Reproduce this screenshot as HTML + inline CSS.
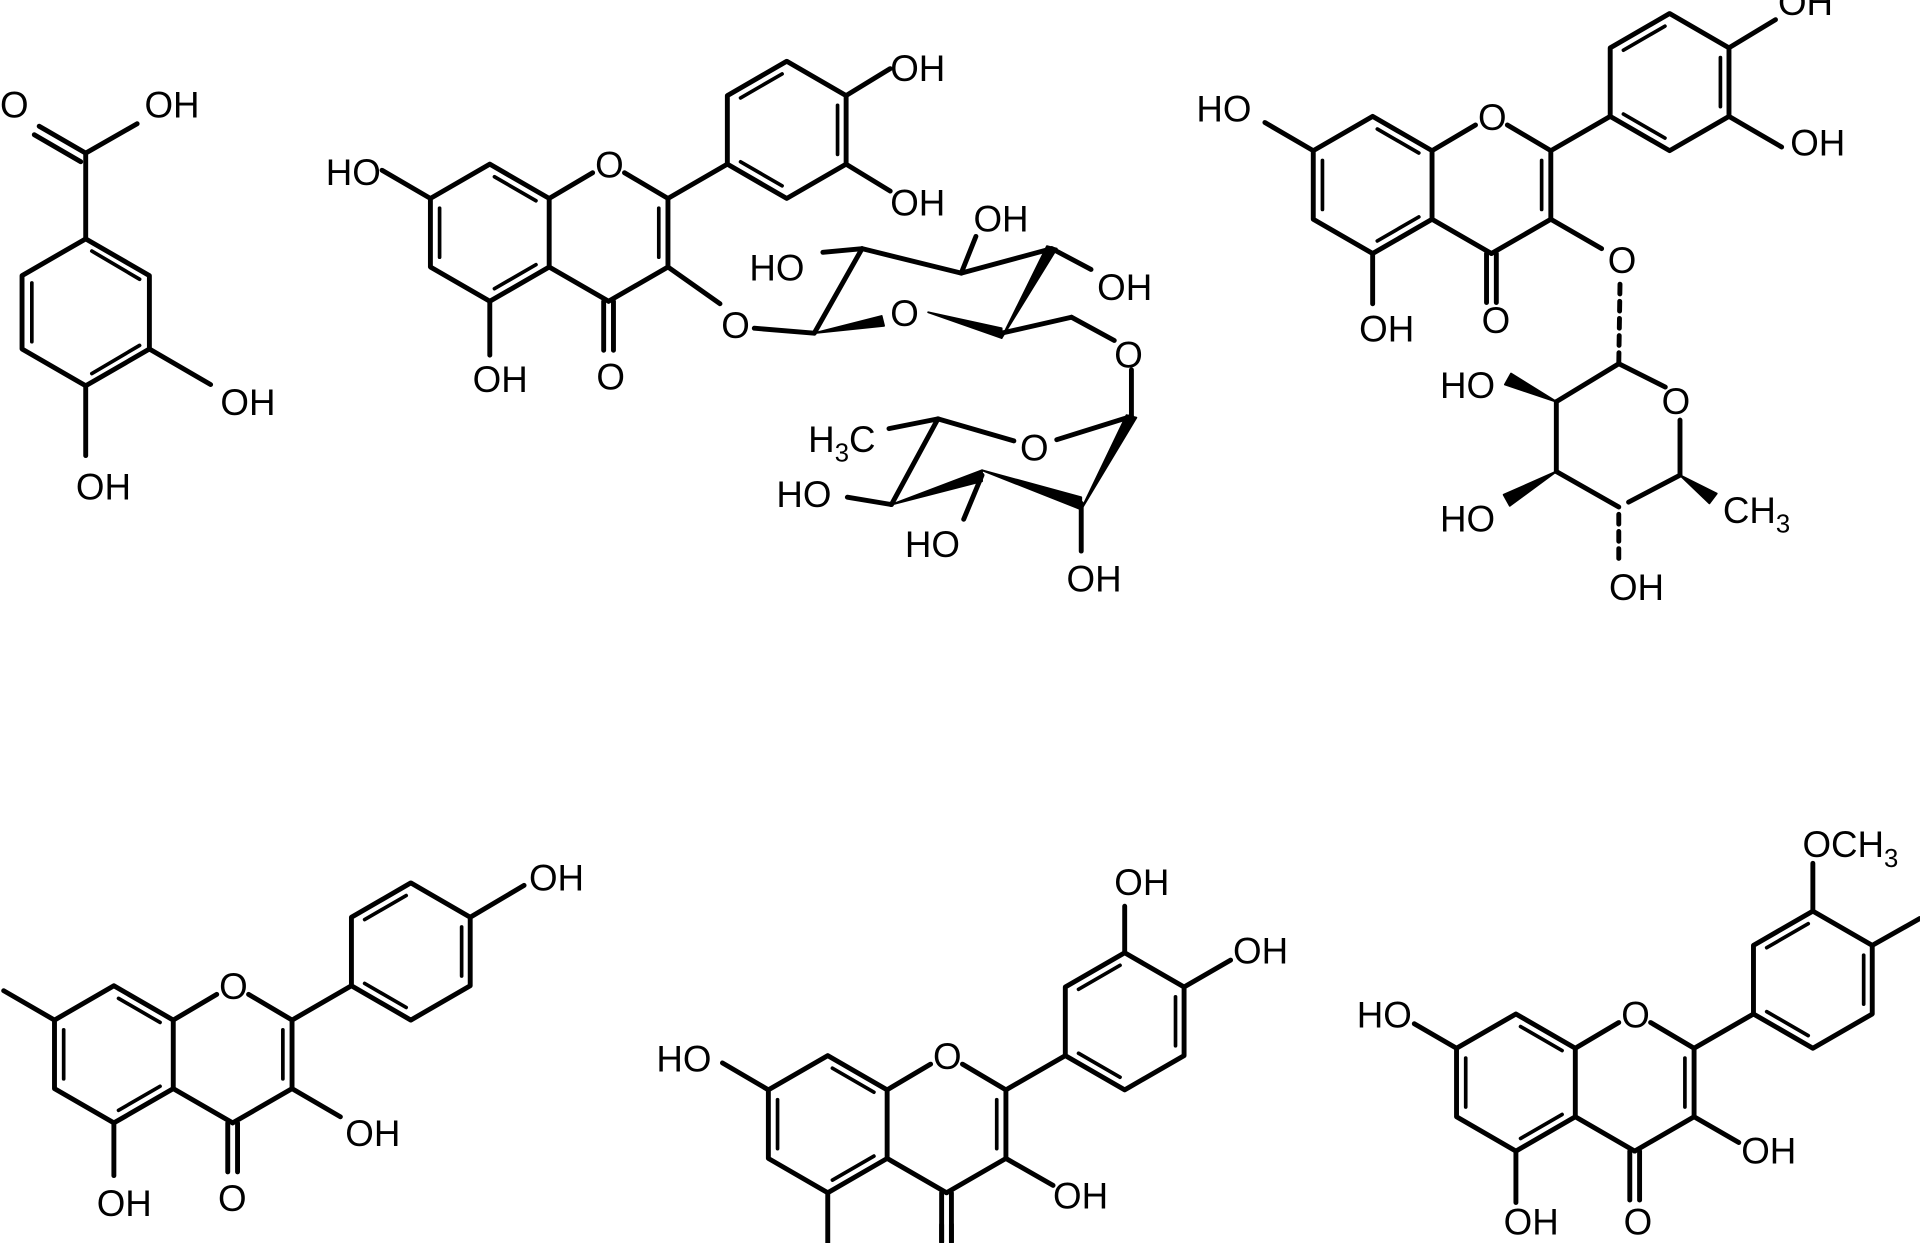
<!DOCTYPE html>
<html><head><meta charset="utf-8"><style>
html,body{margin:0;padding:0;background:#fff}
svg{display:block}
text{font-family:"Liberation Sans",Arial,sans-serif;font-size:30px;fill:#000}
</style></head><body>
<svg width="1920" height="1243" viewBox="0 0 1568 1015" xmlns="http://www.w3.org/2000/svg">
<defs>
<g id="core" fill="none" stroke="#000" stroke-width="4" stroke-linejoin="round" stroke-linecap="round">
<polygon points="0,-56 48.5,-28 48.5,28 0,56 -48.5,28 -48.5,-28"/>
<line x1="48.5" y1="-28" x2="84" y2="-49"/>
<line x1="110" y1="-49" x2="145.5" y2="-28"/>
<line x1="145.5" y1="-28" x2="145.5" y2="28"/>
<line x1="145.5" y1="28" x2="97" y2="56"/>
<line x1="97" y1="56" x2="48.5" y2="28"/>
<line x1="-41" y1="-20" x2="-41" y2="20" stroke-width="3"/>
<line x1="3.8" y1="-45.7" x2="37.7" y2="-26.1" stroke-width="3"/>
<line x1="37.7" y1="26.1" x2="3.8" y2="45.7" stroke-width="3"/>
<line x1="138" y1="-20" x2="138" y2="20" stroke-width="3"/>
<line x1="145.5" y1="-28" x2="194" y2="-56"/>
<polygon points="242.5,-140 291,-112 291,-56 242.5,-28 194,-56 194,-112"/>
<line x1="204.8" y1="-110.1" x2="238.7" y2="-129.7" stroke-width="3"/>
<line x1="284" y1="-104" x2="284" y2="-64" stroke-width="3"/>
<line x1="204.8" y1="-57.9" x2="238.7" y2="-38.3" stroke-width="3"/>
<line x1="93" y1="56" x2="93" y2="96"/>
<line x1="101" y1="56" x2="101" y2="96"/>
</g>
</defs>

<g fill="none" stroke="#000" stroke-width="4" stroke-linecap="round" stroke-linejoin="round">
<polygon points="70,195 122,225 122,285 70,315 18,285 18,225"/>
<line x1="26" y1="231" x2="26" y2="279" stroke-width="3"/>
<line x1="75" y1="205" x2="114" y2="228" stroke-width="3"/>
<line x1="114" y1="282" x2="75" y2="305" stroke-width="3"/>
<line x1="70" y1="195" x2="70" y2="125"/>
<line x1="70" y1="125" x2="32" y2="103"/>
<line x1="66" y1="132" x2="28" y2="110"/>
<line x1="70" y1="125" x2="112" y2="101"/>
<line x1="122" y1="285" x2="172" y2="314"/>
<line x1="70" y1="315" x2="70" y2="372"/>
</g>
<text x="0" y="96">O</text>
<text x="118" y="96">OH</text>
<text x="180" y="339">OH</text>
<text x="62" y="408">OH</text>

<!-- rutin -->
<use href="#core" transform="translate(400,190)"/>
<g fill="none" stroke="#000" stroke-width="4" stroke-linecap="round">
<line x1="351.5" y1="162" x2="312" y2="139"/>
<line x1="400" y1="246" x2="400" y2="290"/>
<line x1="691" y1="78" x2="727" y2="56"/>
<line x1="691" y1="134" x2="727" y2="156"/>
<line x1="545.5" y1="218" x2="588" y2="248"/>
<line x1="616" y1="268" x2="665" y2="272"/>
<line x1="665" y1="272" x2="704" y2="203"/>
<line x1="704" y1="203" x2="785" y2="223"/>
<line x1="785" y1="223" x2="859" y2="203"/>
<line x1="704" y1="203" x2="672" y2="206"/>
<line x1="785" y1="223" x2="797" y2="193"/>
<line x1="859" y1="203" x2="891" y2="220"/>
<line x1="818" y1="272" x2="875" y2="259"/>
<line x1="875" y1="259" x2="910" y2="278"/>
<line x1="924" y1="302" x2="924" y2="340"/>
<line x1="924" y1="340" x2="863" y2="359"/>
<line x1="828" y1="360" x2="766" y2="342"/>
<line x1="766" y1="342" x2="726" y2="350"/>
<line x1="766" y1="342" x2="728" y2="412"/>
<line x1="728" y1="412" x2="692" y2="406"/>
<line x1="802" y1="388" x2="787" y2="424"/>
<line x1="883" y1="411" x2="883" y2="450"/>
</g>
<g fill="#000" stroke="#000" stroke-width="1.5" stroke-linejoin="round">
<polygon points="665,272 720,258 722,266"/>
<polygon points="758,255 818,268 818,276"/>
<polygon points="818,276 855,201 863,203"/>
<polygon points="728,412 802,384 802,393"/>
<polygon points="802,384 883,406 883,416"/>
<polygon points="883,416 920,339 928,341"/>
</g>
<text x="486" y="145">O</text>
<text x="266" y="151">HO</text>
<text x="386" y="320">OH</text>
<text x="487" y="318">O</text>
<text x="727" y="66">OH</text>
<text x="727" y="176">OH</text>
<text x="589" y="276">O</text>
<text x="727" y="266">O</text>
<text x="612" y="229">HO</text>
<text x="795" y="189">OH</text>
<text x="896" y="245">OH</text>
<text x="910" y="300">O</text>
<text x="833" y="376">O</text>
<text x="660" y="369">H<tspan font-size="21" dy="8">3</tspan><tspan dy="-8">C</tspan></text>
<text x="634" y="414">HO</text>
<text x="739" y="455">HO</text>
<text x="871" y="483">OH</text>

<!-- quercitrin -->
<use href="#core" transform="translate(1121,151)"/>
<g fill="none" stroke="#000" stroke-width="4" stroke-linecap="round">
<line x1="1072.5" y1="123" x2="1033" y2="100"/>
<line x1="1121" y1="207" x2="1121" y2="248"/>
<line x1="1412" y1="39" x2="1450" y2="16"/>
<line x1="1412" y1="95" x2="1455" y2="120"/>
<line x1="1266.5" y1="179" x2="1308" y2="203"/>
<line x1="1323" y1="232" x2="1322" y2="297" stroke-dasharray="8,6"/>
<line x1="1322" y1="297" x2="1360" y2="316"/>
<line x1="1372" y1="343" x2="1372" y2="388"/>
<line x1="1372" y1="388" x2="1330" y2="410"/>
<line x1="1322" y1="420" x2="1322" y2="456" stroke-dasharray="8,6"/>
<line x1="1322" y1="414" x2="1271" y2="385"/>
<line x1="1271" y1="385" x2="1271" y2="328"/>
<line x1="1271" y1="328" x2="1322" y2="297"/>
</g>
<g fill="#000" stroke="#000" stroke-width="1.5" stroke-linejoin="round">
<polygon points="1372,388 1396,411 1402,403"/>
<polygon points="1271,385 1228,404 1233,413"/>
<polygon points="1271,328 1234,305 1229,314"/>
</g>
<text x="1207" y="106">O</text>
<text x="977" y="99">HO</text>
<text x="1110" y="279">OH</text>
<text x="1210" y="272">O</text>
<text x="1452" y="12">OH</text>
<text x="1462" y="127">OH</text>
<text x="1313" y="223">O</text>
<text x="1357" y="338">O</text>
<text x="1407" y="427">CH<tspan font-size="21" dy="8">3</tspan></text>
<text x="1176" y="325">HO</text>
<text x="1176" y="434">HO</text>
<text x="1314" y="490">OH</text>

<!-- kaempferol -->
<use href="#core" transform="translate(93,861)"/>
<g fill="none" stroke="#000" stroke-width="4" stroke-linecap="round">
<line x1="44.5" y1="833" x2="3" y2="809"/>
<line x1="93" y1="917" x2="93" y2="960"/>
<line x1="238.5" y1="889" x2="278" y2="912"/>
<line x1="384" y1="749" x2="428" y2="723"/>
</g>
<text x="179" y="816">O</text>
<text x="79" y="993">OH</text>
<text x="178" y="989">O</text>
<text x="282" y="936">OH</text>
<text x="432" y="727">OH</text>

<!-- quercetin -->
<use href="#core" transform="translate(676,918)"/>
<g fill="none" stroke="#000" stroke-width="4" stroke-linecap="round">
<line x1="627.5" y1="890" x2="590" y2="868"/>
<line x1="676" y1="974" x2="676" y2="1015"/>
<line x1="769" y1="1000" x2="769" y2="1015"/>
<line x1="777" y1="1000" x2="777" y2="1015"/>
<line x1="821.5" y1="946" x2="860" y2="968"/>
<line x1="918.5" y1="778" x2="918.5" y2="740"/>
<line x1="967" y1="806" x2="1005" y2="784"/>
</g>
<text x="762" y="873">O</text>
<text x="536" y="875">HO</text>
<text x="860" y="987">OH</text>
<text x="910" y="731">OH</text>
<text x="1007" y="787">OH</text>

<!-- isorhamnetin -->
<use href="#core" transform="translate(1238,884)"/>
<g fill="none" stroke="#000" stroke-width="4" stroke-linecap="round">
<line x1="1189.5" y1="856" x2="1155" y2="836"/>
<line x1="1238" y1="940" x2="1238" y2="982"/>
<line x1="1383.5" y1="912" x2="1420" y2="933"/>
<line x1="1480.5" y1="744" x2="1480.5" y2="705"/>
<line x1="1529" y1="772" x2="1568" y2="750"/>
</g>
<text x="1324" y="839">O</text>
<text x="1108" y="839">HO</text>
<text x="1228" y="1008">OH</text>
<text x="1326" y="1008">O</text>
<text x="1422" y="950">OH</text>
<text x="1472" y="700">OCH<tspan font-size="21" dy="8">3</tspan></text>
</svg>
</body></html>
